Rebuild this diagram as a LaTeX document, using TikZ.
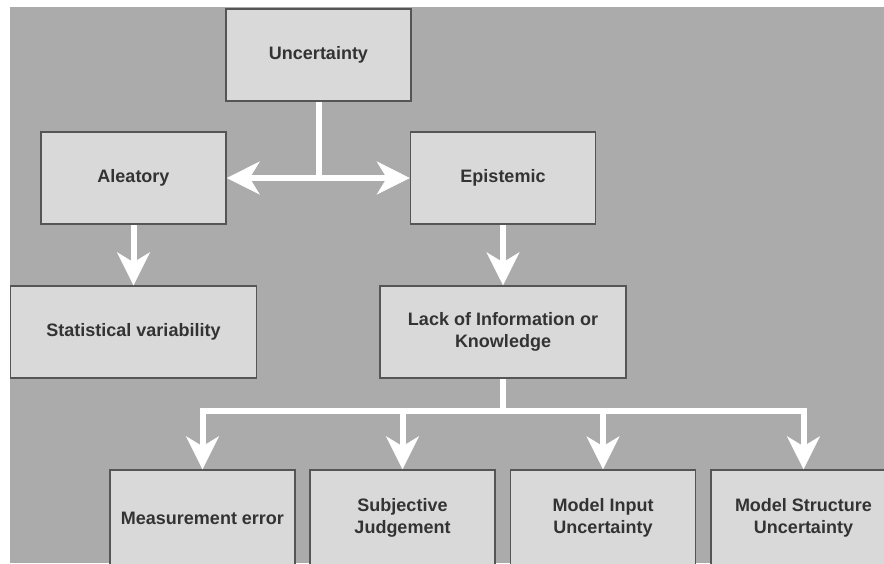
\documentclass[tikz,border=0pt]{standalone}
\usepackage{fontspec}
\setmainfont{Liberation Sans}
\usetikzlibrary{arrows.meta}
\definecolor{bggray}{HTML}{ABABAB}
\definecolor{boxfill}{HTML}{D9D9D9}
\definecolor{boxline}{HTML}{555555}
\definecolor{txtgray}{HTML}{333333}

\begin{document}
\begin{tikzpicture}[x=1pt, y=-1pt,
		box/.style={draw=boxline, fill=boxfill, line width=1.5pt, minimum width=185pt, minimum height=92pt,
			inner sep=0pt, align=center, text=txtgray, font=\fontsize{18}{22}\selectfont\bfseries},
		widebox/.style={box, minimum width=246pt},
		lowbox/.style={box, minimum height=96pt},
		link/.style={draw=white, line width=6pt},
		arr/.style={link, -{Stealth[length=33pt, width=33pt, inset=10pt, line width=0.5pt]}}]
		\fill[white] (0, 0) rectangle (884, 563);
		\useasboundingbox (0, 0) rectangle (884, 563);
		\fill[bggray] (10, 7) rectangle (884, 563);

		\node[box] (unc) at (318.5, 55) {Uncertainty};
		\node[box] (ale) at (133.5, 178) {Aleatory};
		\node[box] (epi) at (503, 178) {Epistemic};
		\node[widebox] (stat) at (133.5, 332) {Statistical variability};
		\node[widebox] (lack) at (503, 332) {Lack of Information or\\Knowledge};

		\node[lowbox] (meas) at (202.5, 518) {Measurement error};
		\node[lowbox] (subj) at (402.5, 518) {Subjective\\Judgement};
		\node[lowbox] (input) at (603, 518) {Model Input\\Uncertainty};
		\node[lowbox] (struct) at (803.5, 518) {Model Structure\\Uncertainty};

		\coordinate (fork) at (unc.south |- ale.east);
		\draw[link] (unc.south) -- (fork);
		\draw[arr] (fork) -- (ale.east);
		\draw[arr] (fork) -- (epi.west);

		\draw[arr] (ale.south) -- (stat.north);
		\draw[arr] (epi.south) -- (lack.north);

		\path (lack.south) ++(0, 32) coordinate (split);
		\draw[link] (lack.south) -- (split);
		\foreach \b in {meas, subj, input, struct} {
			\draw[arr] (split) -| (\b.north);
		}
	\end{tikzpicture}
\end{document}
